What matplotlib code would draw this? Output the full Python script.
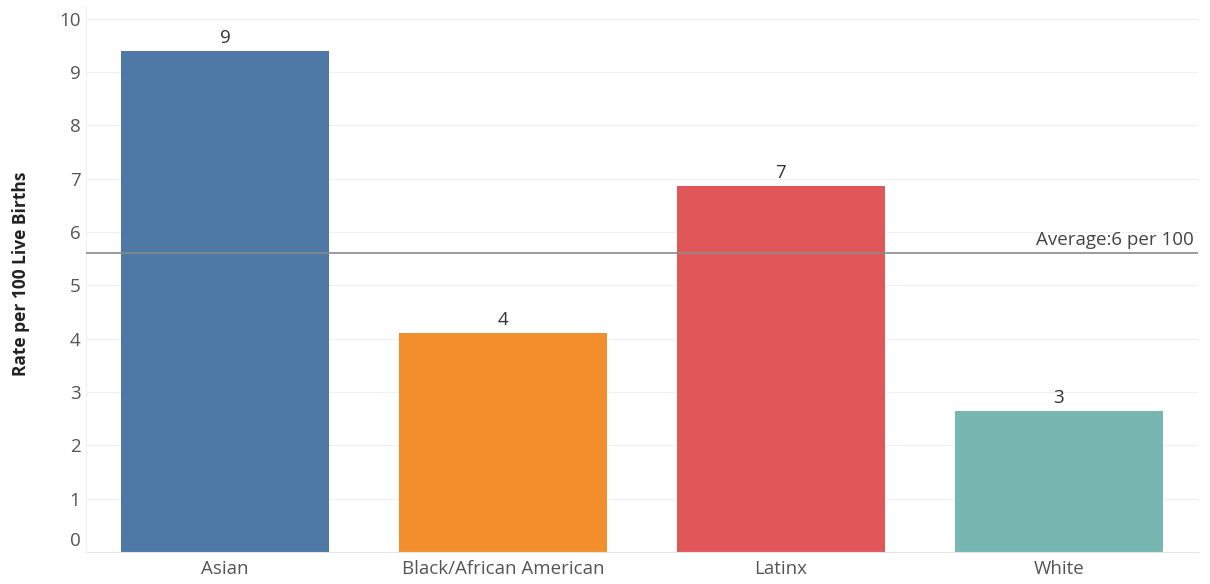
import matplotlib.pyplot as plt
import matplotlib.transforms as mtransforms

groups = ["Asian", "Black/African American", "Latinx", "White"]
rates = [9.4, 4.1, 6.87, 2.65]
bar_colors = ["#4e79a7", "#f28e2b", "#e15759", "#76b7b2"]
average = 5.61
avg_label = "Average:6 per 100"
yticks = list(range(0, 11))

plt.rcParams['font.family'] = ['Open Sans', 'DejaVu Sans']

fig = plt.figure(figsize=(12.1, 5.84), dpi=100)
ax = fig.add_axes([86 / 1210, 32 / 584, (1198 - 86) / 1210, (552 - 6) / 584])

x = range(len(groups))
ax.bar(x, rates, width=0.75, color=bar_colors, zorder=2)
for xi, v in zip(x, rates):
    ax.annotate(f"{v:.0f}", (xi, v), xytext=(0, 3), textcoords="offset points",
                ha="center", va="bottom", fontsize=13.5, color="#333333")

ax.axhline(average, color="#8a8a8a", lw=1.2, zorder=3)
ax.text(0.996, average + 0.08, avg_label, transform=ax.get_yaxis_transform(),
        ha="right", va="bottom", fontsize=13.5, color="#444444")

ax.set_xlim(-0.5, len(groups) - 0.5)
ax.set_ylim(0, 10.24)
ax.set_yticks(yticks)
ax.set_yticklabels([str(t) for t in yticks])
ax.set_xticks(list(x))
ax.set_xticklabels(groups)
ax.tick_params(axis="both", length=0, labelsize=13.5, colors="#555555")
ax.tick_params(axis="y", pad=4)
ax.tick_params(axis="x", pad=6)
# Tableau nudges the zero label up
zero = ax.get_yticklabels()[0]
zero.set_transform(zero.get_transform() + mtransforms.ScaledTranslation(0, 13 / 100, fig.dpi_scale_trans))

ax.grid(axis="y", color="#f0f0f0", lw=0.8, zorder=0)
for s in ["top", "right"]:
    ax.spines[s].set_visible(False)
ax.spines["left"].set_color("#f0f0f0")
ax.spines["bottom"].set_color("#e6e6e6")

ax.set_ylabel("Rate per 100 Live Births", fontsize=12.5, fontweight="bold", color="#222222")
ax.yaxis.set_label_coords(-0.05, 0.51)

fig.savefig("out.png", dpi=100)
